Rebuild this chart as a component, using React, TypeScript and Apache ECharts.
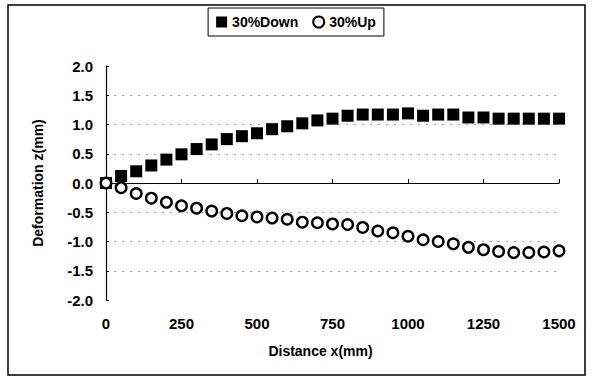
import React, { useEffect, useRef } from "react";
import * as echarts from "echarts";

const distances = [
  0, 50, 100, 150, 200, 250, 300, 350, 400, 450, 500, 550, 600, 650, 700, 750,
  800, 850, 900, 950, 1000, 1050, 1100, 1150, 1200, 1250, 1300, 1350, 1400, 1450, 1500,
];
const down30 = [
  0.0, 0.12, 0.2, 0.3, 0.4, 0.49, 0.58, 0.66, 0.75, 0.8, 0.85, 0.92, 0.97, 1.02, 1.07, 1.1,
  1.15, 1.17, 1.17, 1.17, 1.19, 1.15, 1.17, 1.17, 1.12, 1.12, 1.1, 1.1, 1.1, 1.1, 1.1,
];
const up30 = [
  0.0, -0.08, -0.18, -0.26, -0.33, -0.39, -0.43, -0.48, -0.52, -0.56, -0.58, -0.6, -0.62, -0.67, -0.68, -0.7,
  -0.71, -0.76, -0.82, -0.85, -0.91, -0.97, -1.0, -1.04, -1.1, -1.14, -1.17, -1.19, -1.19, -1.18, -1.16,
];
const seriesNames = ["30%Down", "30%Up"];
const xTitle = "Distance x(mm)";
const yTitle = "Deformation z(mm)";

const FONT = "'Liberation Sans', Arial, sans-serif";

export default function App() {
  const ref = useRef<HTMLDivElement>(null);
  useEffect(() => {
    if (!ref.current) return;
    const chart = echarts.init(ref.current, undefined, { renderer: "svg" });
    const toPairs = (vals: number[]) => distances.map((d, i) => [d, vals[i]]);
    chart.setOption({
      animation: false,
      backgroundColor: "#fff",
      textStyle: { fontFamily: FONT, color: "#000" },
      graphic: [
        {
          type: "rect",
          z: -10,
          shape: { x: 8, y: 5, width: 577, height: 370 },
          style: { fill: "none", stroke: "#000", lineWidth: 1.5 },
        },
      ],
      legend: {
        top: 8,
        left: "center",
        borderColor: "#000",
        borderWidth: 1,
        padding: [7, 8, 7, 8],
        itemWidth: 11,
        itemHeight: 11,
        itemGap: 14,
        textStyle: { fontSize: 14, fontWeight: "bold", color: "#000", fontFamily: FONT },
        data: seriesNames,
      },
      grid: { left: 106, right: 33, top: 66, bottom: 83 },
      xAxis: {
        type: "value",
        min: 0,
        max: 1500,
        interval: 250,
        name: xTitle,
        nameLocation: "middle",
        nameGap: 44,
        nameTextStyle: {
          fontSize: 14,
          fontWeight: "bold",
          color: "#000",
          fontFamily: FONT,
          padding: [0, 24, 0, 0],
        },
        axisLine: { show: true, lineStyle: { color: "#000", width: 1.2 } },
        axisTick: { show: true, inside: true, length: 4, lineStyle: { color: "#000" } },
        axisLabel: {
          fontSize: 15,
          fontWeight: "bold",
          color: "#000",
          margin: 16,
          fontFamily: FONT,
          formatter: (v: number) => String(v),
        },
        splitLine: { show: false },
      },
      yAxis: {
        type: "value",
        min: -2,
        max: 2,
        interval: 0.5,
        name: yTitle,
        nameLocation: "middle",
        nameGap: 61,
        nameTextStyle: { fontSize: 14, fontWeight: "bold", color: "#000", fontFamily: FONT },
        axisLine: { show: true, lineStyle: { color: "#000", width: 1.2 } },
        axisTick: { show: true, inside: true, length: 3, lineStyle: { color: "#000" } },
        axisLabel: {
          fontSize: 15,
          fontWeight: "bold",
          color: "#000",
          margin: 13,
          fontFamily: FONT,
          formatter: (v: number) => v.toFixed(1),
        },
        splitLine: {
          show: true,
          showMinLine: false,
          showMaxLine: false,
          lineStyle: { color: "#888", width: 0.8, type: [2, 6] },
        },
      },
      series: [
        {
          name: seriesNames[0],
          type: "scatter",
          symbol: "rect",
          symbolSize: 12,
          itemStyle: { color: "#000", opacity: 1 },
          data: toPairs(down30),
        },
        {
          name: seriesNames[1],
          type: "scatter",
          symbol: "circle",
          symbolSize: 10.5,
          itemStyle: { color: "#fff", borderColor: "#000", borderWidth: 2.4, opacity: 1 },
          data: toPairs(up30),
        },
      ],
    });
    return () => chart.dispose();
  }, []);
  return (
    <div
      ref={ref}
      style={{ position: "absolute", left: 0, top: 0, width: 592, height: 383 }}
    />
  );
}
